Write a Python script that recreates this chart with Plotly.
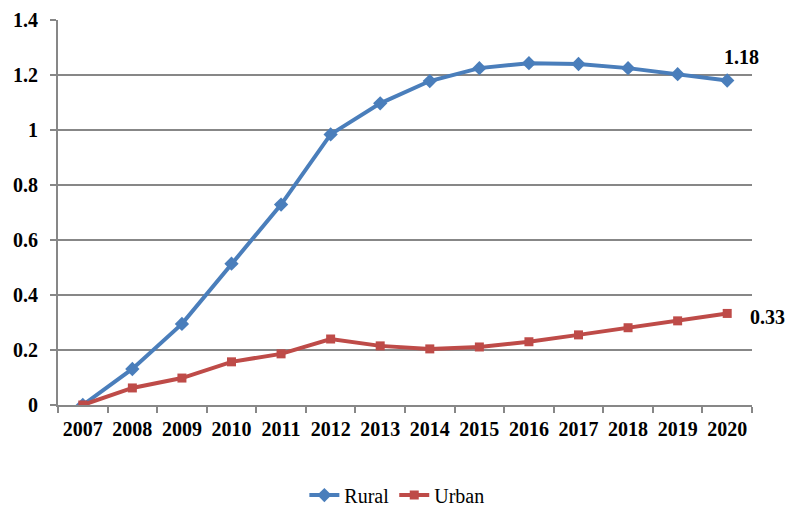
import plotly.graph_objects as go

years = ["2007", "2008", "2009", "2010", "2011", "2012", "2013",
         "2014", "2015", "2016", "2017", "2018", "2019", "2020"]
rural = [0.0, 0.131, 0.295, 0.514, 0.729, 0.984, 1.097,
         1.178, 1.225, 1.243, 1.240, 1.225, 1.203, 1.18]
urban = [0.0, 0.062, 0.098, 0.157, 0.186, 0.240, 0.215,
         0.204, 0.211, 0.230, 0.255, 0.281, 0.306, 0.333]
end_labels = ["1.18", "0.33"]
y_ticks = [0, 0.2, 0.4, 0.6, 0.8, 1.0, 1.2, 1.4]
y_tick_text = ["0", "0.2", "0.4", "0.6", "0.8", "1", "1.2", "1.4"]

BLUE = "#4A7EBB"
RED = "#BE4B48"
GRID = "#878787"
FONT = "Times New Roman"

fig = go.Figure()
fig.add_trace(go.Scatter(
    x=years, y=rural, name="Rural", mode="lines+markers",
    line=dict(color=BLUE, width=4),
    marker=dict(symbol="diamond", size=11, color=BLUE),
))
fig.add_trace(go.Scatter(
    x=years, y=urban, name="Urban", mode="lines+markers",
    line=dict(color=RED, width=4),
    marker=dict(symbol="square", size=9, color=RED),
))

last = len(years) - 1  # category index of the last year
fig.add_annotation(x=last, y=rural[-1], xref="x", yref="y",
                   text="<b>%s</b>" % end_labels[0],
                   showarrow=False, xshift=14, yshift=24,
                   font=dict(family=FONT, size=20, color="black"))
fig.add_annotation(x=last, y=urban[-1], xref="x", yref="y",
                   text="<b>%s</b>" % end_labels[1],
                   showarrow=False, xshift=40, yshift=-4,
                   font=dict(family=FONT, size=20, color="black"))

fig.update_layout(
    width=787, height=506,
    margin=dict(l=58, r=35, t=20, b=101, autoexpand=False),
    paper_bgcolor="white", plot_bgcolor="white",
    font=dict(family=FONT, color="black", size=20),
    showlegend=True,
    legend=dict(orientation="h", x=0.355, xanchor="left", y=-0.234,
                yanchor="middle", font=dict(family=FONT, size=20, color="black")),
    xaxis=dict(
        type="category", range=[-0.5, 13.5],
        tickvals=years, ticktext=["<b>%s</b>" % y for y in years],
        tickangle=0, ticklabelstandoff=5,
        showgrid=False, showline=True, linecolor=GRID, linewidth=2,
        ticks="outside", tickson="boundaries", ticklen=6, tickcolor=GRID,
        tickwidth=2,
        tickfont=dict(family=FONT, size=20, color="black"),
    ),
    yaxis=dict(
        range=[0, 1.4], tickvals=y_ticks,
        ticktext=["<b>%s</b>" % t for t in y_tick_text],
        showgrid=True, gridcolor=GRID, gridwidth=2, zeroline=False,
        showline=True, linecolor=GRID, linewidth=2,
        ticks="outside", ticklen=6, tickcolor=GRID, tickwidth=2,
        ticklabelstandoff=8,
        tickfont=dict(family=FONT, size=20, color="black"),
    ),
)

fig.write_html("out.html")
